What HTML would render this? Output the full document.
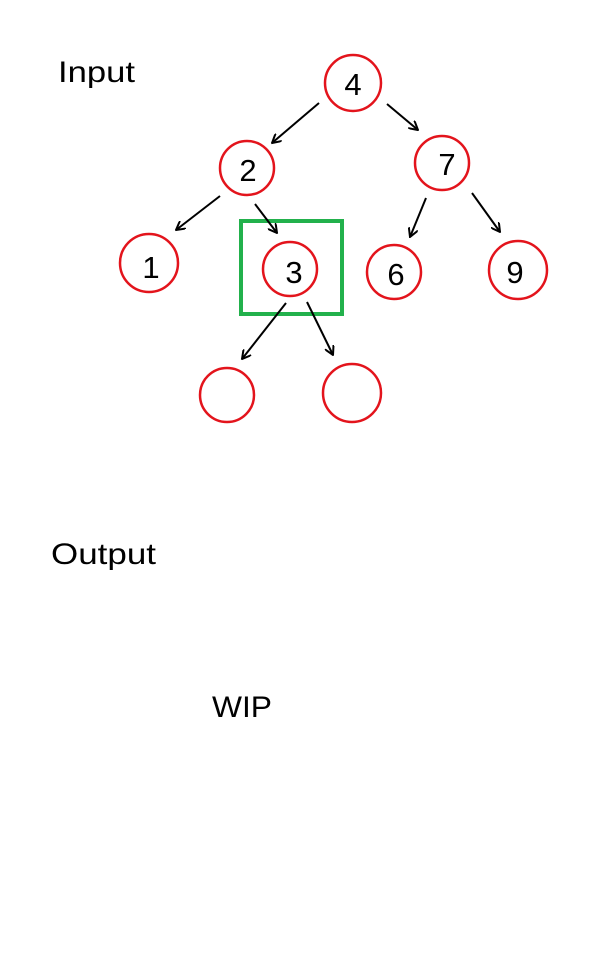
<!DOCTYPE html>
<html><head><style>html,body{margin:0;padding:0;background:#fff;}svg{display:block}</style></head>
<body>
<svg width="612" height="962" viewBox="0 0 612 962" xmlns="http://www.w3.org/2000/svg" font-family="Liberation Sans, sans-serif">
<defs>
<marker id="a" viewBox="0 0 10 10" refX="9" refY="5" markerWidth="10" markerHeight="10" markerUnits="userSpaceOnUse" orient="auto">
<path d="M0,0 L9,5 L0,10" fill="none" stroke="#000" stroke-width="2"/>
</marker>
</defs>
<rect width="612" height="962" fill="#fff"/>
<text x="58" y="82" font-size="30" textLength="77" lengthAdjust="spacingAndGlyphs">Input</text>
<text x="51" y="564" font-size="30" textLength="105" lengthAdjust="spacingAndGlyphs">Output</text>
<text x="212" y="717" font-size="30" textLength="60" lengthAdjust="spacingAndGlyphs">WIP</text>
<g fill="none" stroke="#e3141c" stroke-width="2.5">
<circle cx="353" cy="83" r="28"/>
<circle cx="247" cy="168" r="27"/>
<circle cx="442" cy="163" r="27"/>
<circle cx="149" cy="263" r="29"/>
<circle cx="290" cy="269" r="27"/>
<circle cx="394" cy="272" r="27"/>
<circle cx="518" cy="270" r="29"/>
<circle cx="227" cy="395" r="27"/>
<circle cx="352" cy="393" r="29"/>
</g>
<rect x="241" y="221" width="101" height="93" fill="none" stroke="#22b14c" stroke-width="4"/>
<g stroke="#000" stroke-width="2" marker-end="url(#a)">
<line x1="319" y1="103" x2="272" y2="143"/>
<line x1="387" y1="104" x2="418" y2="130"/>
<line x1="220" y1="196" x2="176" y2="230"/>
<line x1="255" y1="204" x2="277" y2="233"/>
<line x1="426" y1="198" x2="410" y2="237"/>
<line x1="472" y1="193" x2="500" y2="232"/>
<line x1="286" y1="303" x2="242" y2="359"/>
<line x1="307" y1="302" x2="333" y2="355"/>
</g>
<g font-size="31" text-anchor="middle" fill="#000">
<text x="353" y="95">4</text>
<text x="248" y="181">2</text>
<text x="447" y="175">7</text>
<text x="151" y="278">1</text>
<text x="294" y="283">3</text>
<text x="396" y="285">6</text>
<text x="515" y="283">9</text>
</g>
</svg>
</body></html>
